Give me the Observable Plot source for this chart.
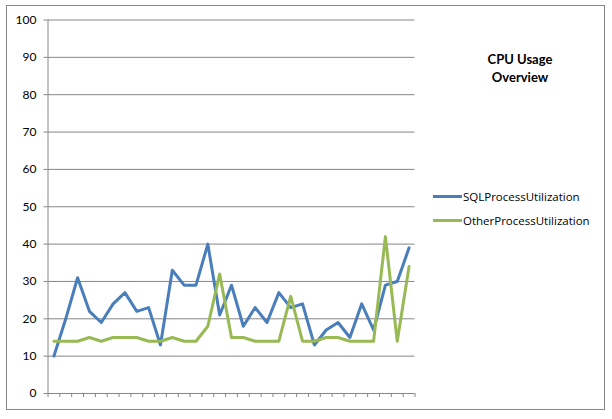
<!DOCTYPE html>
<html><head><meta charset="utf-8">
<script src="https://cdn.jsdelivr.net/npm/d3@7"></script>
<script src="https://cdn.jsdelivr.net/npm/@observablehq/plot@0.6"></script>
<style>
html,body{margin:0;padding:0;background:#fff;}
#wrap{position:relative;width:612px;height:419px;overflow:hidden;font-family:Lato,"Open Sans",sans-serif;color:#000;}
#frame{position:absolute;left:6px;top:5px;width:599px;height:405px;border:1px solid #868686;box-sizing:border-box;pointer-events:none;}
#chart{position:absolute;left:0;top:0;}
.title{position:absolute;left:460px;width:120px;text-align:center;font-weight:bold;font-size:13px;line-height:17.5px;top:51px;}
.leg{position:absolute;left:433px;font-family:"Open Sans",Lato,sans-serif;font-size:11.5px;letter-spacing:0px;line-height:14px;white-space:nowrap;}
.leg .sw{display:inline-block;width:29px;height:3px;vertical-align:middle;margin-right:1px;position:relative;top:-1px;}
</style>
</head><body>
<div id="wrap">
  <div id="chart"></div>
  <div id="frame"></div>
  <div class="title">CPU Usage<br>Overview</div>
  <div class="leg" id="leg1" style="top:189.5px"></div>
  <div class="leg" id="leg2" style="top:214px"></div>
</div>
<script>
const seriesNames = ["SQLProcessUtilization", "OtherProcessUtilization"];
const seriesColors = ["#4a7ebb", "#98b954"];
const sqlValues = [10,20,31,22,19,24,27,22,23,13,33,29,29,40,21,29,18,23,19,27,23,24,13,17,19,15,24,17,29,30,39];
const otherValues = [14,14,14,15,14,15,15,15,14,14,15,14,14,18,32,15,15,14,14,14,26,14,14,15,15,14,14,14,42,14,34];
const yTicks = [0,10,20,30,40,50,60,70,80,90,100];

const data = [];
sqlValues.forEach((v, i) => data.push({i, v, s: seriesNames[0]}));
otherValues.forEach((v, i) => data.push({i, v, s: seriesNames[1]}));
const n = sqlValues.length;
const xBoundaries = d3.range(n + 1).map(k => k - 0.5);

const gray = "#868686";
const chart = Plot.plot({
  width: 612,
  height: 419,
  marginLeft: 47.5,
  marginRight: 197.5,
  marginTop: 19.5,
  marginBottom: 26,
  style: {fontFamily: "Lato, 'Open Sans', sans-serif", background: "transparent"},
  x: {domain: [-0.5, n - 0.5], axis: null},
  y: {domain: [0, 100], axis: null},
  color: {domain: seriesNames, range: seriesColors},
  marks: [
    Plot.gridY(yTicks.filter(t => t > 0), {stroke: gray, strokeOpacity: 1, strokeWidth: 1}),
    Plot.axisY({ticks: yTicks, label: null, tickSize: 4, tickPadding: 7.5, fontSize: 12, stroke: gray, fill: "#000", strokeOpacity: 1}),
    Plot.axisX({ticks: xBoundaries, label: null, tickSize: 4, tickFormat: () => "", stroke: gray, strokeOpacity: 1}),
    Plot.ruleX([-0.5], {stroke: gray}),
    Plot.ruleY([0], {stroke: gray}),
    Plot.line(data, {x: "i", y: "v", z: "s", stroke: "s", strokeWidth: 3, strokeLinejoin: "round", strokeLinecap: "round"})
  ]
});
document.getElementById("chart").appendChild(chart);

function legend(el, name, color) {
  el.innerHTML = `<span class="sw" style="background:${color}"></span>${name}`;
}
legend(document.getElementById("leg1"), seriesNames[0], seriesColors[0]);
legend(document.getElementById("leg2"), seriesNames[1], seriesColors[1]);
</script>
</body></html>
